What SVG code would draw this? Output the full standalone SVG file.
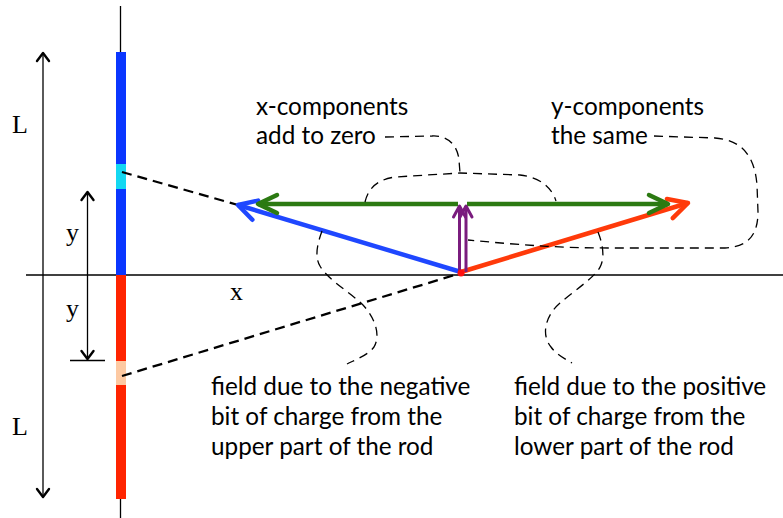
<svg xmlns="http://www.w3.org/2000/svg" width="783" height="518" viewBox="0 0 783 518">
<style>
.serif{font-family:"Liberation Serif","Times New Roman",serif;font-size:26px;fill:#000}
.sans{font-family:Lato,"Liberation Sans",sans-serif;font-size:24.3px;fill:#000}
.thin{fill:none;stroke:#000;stroke-width:1.3}
.dash{fill:none;stroke:#000;stroke-width:2.3;stroke-dasharray:10,6}
.ldash{fill:none;stroke:#000;stroke-width:1.3;stroke-dasharray:9,6}
</style>
<defs>
<marker id="mk" markerUnits="userSpaceOnUse" markerWidth="30" markerHeight="30" viewBox="-15 -15 30 30" refX="0" refY="0" orient="auto" overflow="visible"><path d="M-8,-6 L0,0 L-8,6" fill="none" stroke="#000" stroke-width="2.4" stroke-linecap="round" stroke-linejoin="round"/></marker>
<marker id="mb" markerUnits="userSpaceOnUse" markerWidth="40" markerHeight="40" viewBox="-20 -20 40 40" refX="0" refY="0" orient="auto" overflow="visible"><path d="M-18,-10 L0,0 L-18,10" fill="none" stroke="#1f47ff" stroke-width="4.5" stroke-linecap="round" stroke-linejoin="round"/></marker>
<marker id="mg" markerUnits="userSpaceOnUse" markerWidth="40" markerHeight="40" viewBox="-20 -20 40 40" refX="0" refY="0" orient="auto" overflow="visible"><path d="M-19,-9 L0,0 L-19,9" fill="none" stroke="#2c7a12" stroke-width="4.5" stroke-linecap="round" stroke-linejoin="round"/></marker>
<marker id="mr" markerUnits="userSpaceOnUse" markerWidth="40" markerHeight="40" viewBox="-20 -20 40 40" refX="0" refY="0" orient="auto" overflow="visible"><path d="M-19,-10 L0,0 L-19,10" fill="none" stroke="#ff3a0a" stroke-width="4.5" stroke-linecap="round" stroke-linejoin="round"/></marker>
<marker id="mp" markerUnits="userSpaceOnUse" markerWidth="30" markerHeight="30" viewBox="-15 -15 30 30" refX="0" refY="0" orient="auto" overflow="visible"><path d="M-11,-6 L0,0 L-11,6" fill="none" stroke="#7a1c7e" stroke-width="3" stroke-linecap="round" stroke-linejoin="round"/></marker>
</defs>
<rect width="783" height="518" fill="#fff"/>

<g id="axes">
<line class="thin" x1="120.5" y1="6" x2="120.5" y2="518"/>
<line class="thin" x1="26" y1="275" x2="783" y2="275"/>
</g>

<g id="rod">
<rect x="116" y="52" width="10" height="223" fill="#0a36ff"/>
<rect x="116" y="164" width="10" height="25" fill="#14d8f2"/>
<rect x="116" y="275" width="10" height="224" fill="#ff2400"/>
<rect x="116" y="361" width="10" height="24" fill="#fdc9a2"/>
</g>

<g id="dimensions">
<line class="thin" x1="43" y1="275" x2="43" y2="53" marker-end="url(#mk)"/>
<line class="thin" x1="43" y1="275" x2="43" y2="497" marker-end="url(#mk)"/>
<line class="thin" x1="87.5" y1="275" x2="87.5" y2="192" marker-end="url(#mk)"/>
<line class="thin" x1="87.5" y1="275" x2="87.5" y2="359" marker-end="url(#mk)"/>
<line class="thin" x1="70" y1="360.5" x2="105" y2="360.5"/>
<text class="serif" x="12" y="133">L</text>
<text class="serif" x="12" y="435">L</text>
<text class="serif" x="66" y="241">y</text>
<text class="serif" x="66" y="317">y</text>
<text class="serif" x="230" y="300">x</text>
</g>

<g id="connectors">
<line class="dash" x1="122" y1="172" x2="238" y2="205"/>
<line class="dash" x1="122" y1="376" x2="458" y2="274"/>
<line x1="461" y1="272" x2="238" y2="205" stroke="#1f47ff" stroke-width="4.5" marker-end="url(#mb)"/>
<line x1="461" y1="272" x2="688" y2="203" stroke="#ff3a0a" stroke-width="4.5" marker-end="url(#mr)"/>
<line x1="458" y1="204" x2="258" y2="204" stroke="#2c7a12" stroke-width="4.5" marker-end="url(#mg)"/>
<line x1="467" y1="204" x2="668" y2="204" stroke="#2c7a12" stroke-width="4.5" marker-end="url(#mg)"/>
<line x1="459.5" y1="272" x2="459.5" y2="206" stroke="#7a1c7e" stroke-width="3" marker-end="url(#mp)"/>
<line x1="466" y1="272" x2="466" y2="206" stroke="#7a1c7e" stroke-width="3" marker-end="url(#mp)"/>
<circle cx="461" cy="273" r="3.5" fill="#ff1010"/>
</g>

<g id="braces">
<path class="ldash" d="M385,137 L432,136 C450,135 458,148 459,160 L460,173"/>
<path class="ldash" d="M365,202 C368,190 375,180 395,177 L460,173 L520,175 C540,177 552,188 556,201"/>
<path class="ldash" d="M654,136 L715,138 C745,140 755,160 757,185 L758,212 C758,235 748,247 725,248 L610,248 C560,248 520,245 468,240"/>
<path class="ldash" d="M322,231 C318,242 314,256 320,266 C328,280 350,292 363,305 C375,318 381,335 374,347 C368,355 357,359 347,364"/>
<path class="ldash" d="M598,232 C602,242 605,255 601,265 C597,276 575,290 560,303 C545,316 541,335 551,347 C556,354 565,359 572,363"/>
</g>

<g id="label-x">
<text class="sans" x="256" y="115">x-components</text>
<text class="sans" x="256" y="144">add to zero</text>
</g>
<g id="label-y">
<text class="sans" x="551" y="115">y-components</text>
<text class="sans" x="551" y="144">the same</text>
</g>
<g id="label-neg">
<text class="sans" x="211" y="395">field due to the negative</text>
<text class="sans" x="211" y="425">bit of charge from the</text>
<text class="sans" x="211" y="455">upper part of the rod</text>
</g>
<g id="label-pos">
<text class="sans" x="514" y="395">field due to the positive</text>
<text class="sans" x="514" y="425">bit of charge from the</text>
<text class="sans" x="514" y="455">lower part of the rod</text>
</g>
</svg>
